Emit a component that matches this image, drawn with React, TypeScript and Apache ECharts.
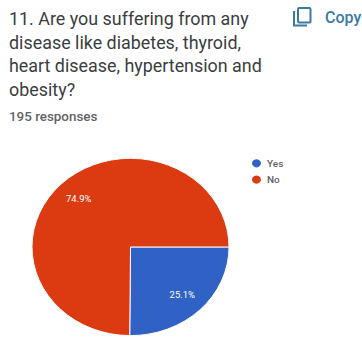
import React, { useEffect, useRef } from "react";
import * as echarts from "echarts";

const question = "11. Are you suffering from any\ndisease like diabetes, thyroid,\nheart disease, hypertension and\nobesity?";
const responses = "195 responses";
const copyLabel = "Copy";
const categories = ["Yes", "No"];
const counts = [49, 146];
const colors = ["#2f62c4", "#dc3a10"];

const FONT = "Roboto, sans-serif";
const PIE_SQUASH = 0.9;
const ACCENT = "#3a7aa3";

export default function App() {
  const pieRef = useRef<HTMLDivElement>(null);
  const textRef = useRef<HTMLDivElement>(null);

  useEffect(() => {
    const heading = echarts.init(textRef.current!, null, { renderer: "svg" });
    heading.setOption({
      animation: false,
      title: [
        {
          text: question,
          left: 4,
          top: 2,
          textStyle: { fontFamily: FONT, fontSize: 17.9, fontWeight: 400, color: "#3a3d40", lineHeight: 23.5 },
        },
        {
          text: responses,
          left: 4,
          top: 105,
          textStyle: { fontFamily: FONT, fontSize: 13.4, fontWeight: 500, color: "#5f6368" },
        },
      ],
      graphic: [
        {
          type: "rect",
          shape: { x: 298, y: 8, width: 12.5, height: 14.5, r: 1 },
          style: { fill: "none", stroke: ACCENT, lineWidth: 2 },
        },
        {
          type: "polyline",
          shape: { points: [[294, 11], [294, 25.5], [307, 25.5]] },
          style: { fill: "none", stroke: ACCENT, lineWidth: 2 },
        },
        {
          type: "text",
          x: 325,
          y: 9,
          style: { text: copyLabel, fontFamily: FONT, fontSize: 16, fontWeight: 500, fill: ACCENT },
        },
      ],
    });

    const pie = echarts.init(pieRef.current!, null, { renderer: "svg" });
    pie.setOption({
      animation: false,
      color: colors,
      legend: {
        data: categories,
        orient: "vertical",
        left: 245,
        top: 170,
        icon: "circle",
        itemWidth: 11,
        itemHeight: 11,
        itemGap: 5,
        textStyle: { fontFamily: FONT, fontSize: 10, fontWeight: 500, color: "#5f6368", padding: [0, 0, 0, 0] },
      },
      series: [
        {
          type: "pie",
          center: [130.5, 274.4],
          radius: 98.5,
          startAngle: 0,
          clockwise: true,
          data: categories.map((name, i) => ({ name, value: counts[i] })),
          itemStyle: { borderColor: "#ffffff", borderWidth: 1 },
          label: {
            show: true,
            position: "inside",
            formatter: (p: any) => p.percent.toFixed(1) + "%",
            fontFamily: FONT,
            fontSize: 9.5,
            color: "#ffffff",
          },
          // Push the inside labels out from mid-radius towards the rim
          labelLayout: (p: any) => {
            const sign = p.dataIndex === 0 ? 1 : -1;
            return { dx: sign * 15, dy: sign * 16 };
          },
          labelLine: { show: false },
        },
      ],
    });

    return () => {
      heading.dispose();
      pie.dispose();
    };
  }, []);

  return (
    <div style={{ position: "fixed", left: 0, top: 0, width: 362, height: 350, overflow: "hidden", background: "#fff" }}>
      <div ref={textRef} style={{ position: "absolute", left: 0, top: 0, width: 362, height: 350 }} />
      <div
        ref={pieRef}
        style={{
          position: "absolute",
          left: 0,
          top: 0,
          width: 362,
          height: 350 / PIE_SQUASH,
          transform: `scaleY(${PIE_SQUASH})`,
          transformOrigin: "0 0",
        }}
      />
    </div>
  );
}
